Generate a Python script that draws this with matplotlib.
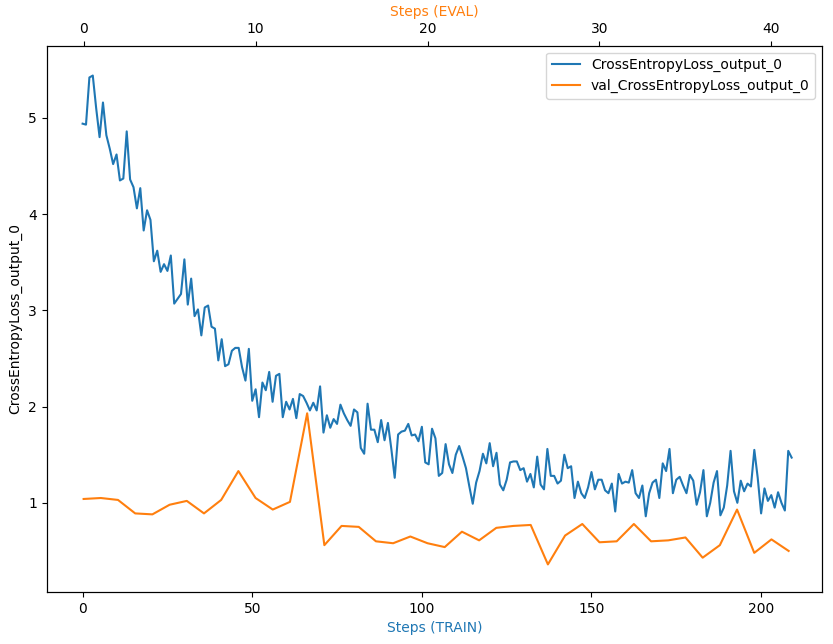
import numpy as np
import matplotlib.pyplot as plt

train_loss = [
    4.94, 4.93, 5.42, 5.44, 5.10, 4.80, 5.16, 4.82, 4.68, 4.52,
    4.62, 4.35, 4.37, 4.86, 4.36, 4.28, 4.06, 4.27, 3.83, 4.04,
    3.94, 3.51, 3.62, 3.40, 3.48, 3.41, 3.57, 3.07, 3.12, 3.17,
    3.53, 3.06, 3.33, 2.94, 3.01, 2.74, 3.03, 3.05, 2.83, 2.81,
    2.48, 2.70, 2.42, 2.44, 2.58, 2.61, 2.61, 2.41, 2.27, 2.60,
    2.06, 2.18, 1.89, 2.25, 2.17, 2.36, 2.05, 2.32, 2.34, 1.89,
    2.05, 1.97, 2.08, 1.88, 2.13, 2.11, 2.04, 1.96, 2.04, 1.96,
    2.21, 1.73, 1.91, 1.78, 1.87, 1.82, 2.02, 1.93, 1.86, 1.80,
    1.97, 1.94, 1.57, 1.51, 2.03, 1.76, 1.76, 1.63, 1.86, 1.65,
    1.83, 1.56, 1.26, 1.71, 1.74, 1.75, 1.82, 1.70, 1.71, 1.64,
    1.79, 1.42, 1.40, 1.77, 1.67, 1.28, 1.31, 1.61, 1.40, 1.31,
    1.50, 1.59, 1.48, 1.36, 1.17, 0.99, 1.21, 1.33, 1.51, 1.41,
    1.62, 1.38, 1.52, 1.19, 1.13, 1.24, 1.42, 1.43, 1.43, 1.34,
    1.36, 1.22, 1.30, 1.16, 1.48, 1.19, 1.14, 1.56, 1.28, 1.28,
    1.20, 1.23, 1.50, 1.36, 1.38, 1.05, 1.22, 1.10, 1.05, 1.16,
    1.32, 1.14, 1.24, 1.24, 1.13, 1.10, 1.20, 0.91, 1.30, 1.20,
    1.22, 1.21, 1.34, 1.10, 1.05, 1.18, 0.86, 1.10, 1.21, 1.24,
    1.05, 1.41, 1.33, 1.56, 1.10, 1.24, 1.27, 1.18, 1.10, 1.29,
    1.23, 0.98, 1.11, 1.34, 0.86, 1.00, 1.21, 1.33, 0.87, 0.95,
    1.18, 1.54, 1.12, 1.00, 1.23, 1.12, 1.20, 1.17, 1.55, 1.26,
    0.89, 1.15, 1.02, 1.08, 0.95, 1.11, 1.00, 0.92, 1.54, 1.47,
]
val_loss = [
    1.04, 1.05, 1.03, 0.89, 0.88, 0.98, 1.02, 0.89, 1.03, 1.33,
    1.05, 0.93, 1.01, 1.93, 0.56, 0.76, 0.75, 0.60, 0.58, 0.65,
    0.58, 0.54, 0.70, 0.61, 0.74, 0.76, 0.77, 0.36, 0.66, 0.78,
    0.59, 0.60, 0.78, 0.60, 0.61, 0.64, 0.43, 0.56, 0.93, 0.48,
    0.62, 0.50,
]
train_steps = np.arange(len(train_loss))
eval_steps = np.arange(len(val_loss))

fig, ax1 = plt.subplots(figsize=(8.33, 6.44), dpi=100)
fig.subplots_adjust(left=0.056, right=0.987, top=0.929, bottom=0.081)

l1, = ax1.plot(train_steps, train_loss, color='tab:blue', label='CrossEntropyLoss_output_0')
ax1.set_xlim(-10.6, 218)
ax1.set_ylim(0.075, 5.75)
ax1.set_xlabel('Steps (TRAIN)', color='tab:blue')
ax1.set_ylabel('CrossEntropyLoss_output_0')

ax2 = ax1.twiny()
l2, = ax2.plot(eval_steps, val_loss, color='tab:orange', label='val_CrossEntropyLoss_output_0')
ax2.set_xlim(-2.15, 42.95)
ax2.set_xlabel('Steps (EVAL)', color='tab:orange')

ax1.legend(handles=[l1, l2], loc='upper right')

fig.savefig('out.png', dpi=100)
